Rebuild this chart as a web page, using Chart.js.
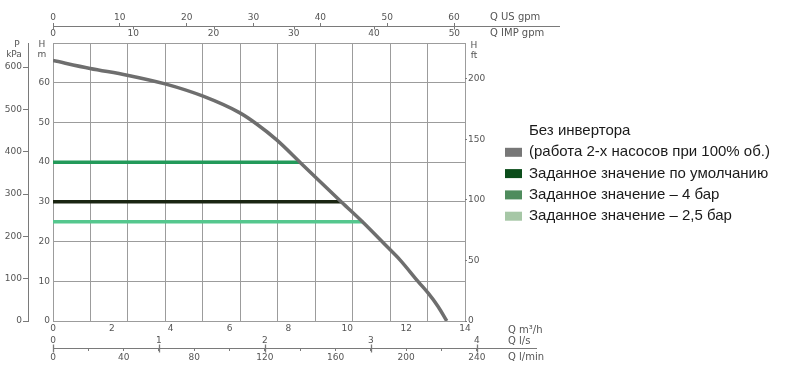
<!DOCTYPE html>
<html><head><meta charset="utf-8">
<script src="https://cdn.jsdelivr.net/npm/chart.js@4.4.0/dist/chart.umd.min.js"></script>
<style>html,body{margin:0;padding:0;background:#fff;overflow:hidden}#wrap{position:relative;width:800px;height:369px}</style>
</head><body><div id="wrap"><canvas id="c" width="800" height="369"></canvas></div>
<script>
// ---- data ----
const curveQ = [0, 1.26, 2.52, 3.81, 5.1, 6.35, 6.92, 7.6, 8.39, 9.81, 10.54, 11.34, 11.79, 12.41, 12.75, 13.09, 13.38];
const curveH = [65.6, 63.6, 61.9, 59.7, 56.6, 52.4, 49.6, 45.6, 40.0, 29.9, 24.8, 18.8, 15.4, 9.9, 7.0, 3.6, 0];
const setpointH = [30, 40, 25];
const setpointQ = [9.81, 8.39, 10.54];
const legendLabels = [['Без инвертора', '(работа 2-х насосов при 100% об.)'], ['Заданное значение по умолчанию'], ['Заданное значение – 4 бар'], ['Заданное значение – 2,5 бар']];
const ticksM = [0, 10, 20, 30, 40, 50, 60, 70];
const ticksKPa = [0, 100, 200, 300, 400, 500, 600];
const ticksFt = [0, 50, 100, 150, 200];
const ticksM3h = [0, 2, 4, 6, 8, 10, 12, 14];
const ticksUS = [0, 10, 20, 30, 40, 50, 60];
const ticksIMP = [0, 10, 20, 30, 40, 50];
const ticksLs = [0, 1, 2, 3, 4];
const ticksLmin = [0, 20, 40, 60, 80, 100, 120, 140, 160, 180, 200, 220, 240];
const gridCols = [0, 1, 2, 3, 4, 5, 6, 7, 8, 9, 10, 11];
const unitLabels = ['Q US gpm', 'Q IMP gpm', 'Q m³/h', 'Q l/s', 'Q l/min'];

// ---- styles ----
const curveColor = '#6e6e6e';
const lineColors = ['#1a2512', '#239a5a', '#55c78e'];
const legendColors = ['#777777', '#0b4d1a', '#4f8c5d', '#a6c7a6'];
const tickFont = {family: 'DejaVu Sans', size: 9};
const tickCol = '#555';
const axisCol = '#7a7a7a';
const gridCol = '#9c9c9c';
const QMAX = 14, HMAX = 70, KPAMAX = 657;

const fixW = w => s => { s.width = w; };
const fixH = h => s => { s.height = h; };
const setTicks = arr => s => { s.ticks = arr.map(v => ({value: v})); };
const tk = extra => Object.assign({font: tickFont, color: tickCol, autoSkip: false, maxRotation: 0}, extra || {});

const datasets = [{
  data: curveQ.map((q, i) => ({x: q, y: curveH[i]})),
  borderColor: curveColor, borderWidth: 3.5, pointRadius: 0, cubicInterpolationMode: 'monotone', fill: false
}].concat(setpointH.map((h, i) => ({
  data: [{x: 0, y: h}, {x: setpointQ[i], y: h}],
  borderColor: lineColors[i], borderWidth: 3.5, pointRadius: 0, fill: false
})));

const extras = {
  id: 'extras',
  afterDraw(chart) {
    const ctx = chart.ctx, s = chart.scales, ca = chart.chartArea;
    ctx.save();
    ctx.strokeStyle = axisCol; ctx.lineWidth = 1;
    // top flow axis line
    const yt = Math.round(s.xus.bottom) + 0.5;
    ctx.beginPath(); ctx.moveTo(ca.left, yt); ctx.lineTo(560, yt); ctx.stroke();
    ticksIMP.forEach(v => {
      const x = Math.round(s.xim.getPixelForValue(v)) + 0.5;
      ctx.beginPath(); ctx.moveTo(x, yt); ctx.lineTo(x, yt + 3); ctx.stroke();
    });
    // bottom flow axis line
    const yb = Math.round(s.xlmin.top) + 0.5;
    ctx.beginPath(); ctx.moveTo(ca.left, yb); ctx.lineTo(537, yb); ctx.stroke();
    ctx.lineWidth = 1.3;
    ticksLs.forEach(v => {
      const x = Math.round(s.xls.getPixelForValue(v)) + 0.5;
      ctx.beginPath(); ctx.moveTo(x, yb - 4); ctx.lineTo(x, yb + 4); ctx.stroke();
    });
    // axis titles
    ctx.fillStyle = tickCol;
    ctx.font = '9px "DejaVu Sans"';
    ctx.textAlign = 'center'; ctx.textBaseline = 'middle';
    ctx.fillText('P', 17, 44.5); ctx.fillText('kPa', 14, 54.5);
    ctx.fillText('H', 42, 44.5); ctx.fillText('m', 42, 54.5);
    ctx.fillText('H', 474, 45.5); ctx.fillText('ft', 474, 55.5);
    ctx.font = '10px "DejaVu Sans"';
    ctx.textAlign = 'left';
    ctx.fillText(unitLabels[0], 490, 17);
    ctx.fillText(unitLabels[1], 490, 33);
    ctx.fillText(unitLabels[2], 508, 330);
    ctx.fillText(unitLabels[3], 508, 341);
    ctx.fillText(unitLabels[4], 508, 357);
    // legend
    ctx.font = '15px "Liberation Sans"';
    ctx.fillStyle = '#1a1a1a';
    let y = 131;
    legendLabels.forEach((lines, i) => {
      lines.forEach((t, j) => {
        if (j === lines.length - 1) {
          ctx.fillStyle = legendColors[i];
          ctx.fillRect(505, y - 4.5, 17, 9);
          ctx.fillStyle = '#1a1a1a';
        }
        ctx.fillText(t, 529, y);
        y += 21.3;
      });
    });
    ctx.restore();
  }
};

new Chart(document.getElementById('c'), {
  type: 'line',
  data: {datasets},
  plugins: [extras],
  options: {
    responsive: false, animation: false, devicePixelRatio: 1,
    layout: {padding: {left: 0, right: 310, top: 0, bottom: 0}},
    plugins: {legend: {display: false}, tooltip: {enabled: false}},
    scales: {
      x: {type: 'linear', position: 'bottom', weight: 0, min: 0, max: QMAX,
          afterBuildTicks: setTicks(ticksM3h), afterFit: fixH(12),
          grid: {display: false, drawTicks: false}, border: {display: false}, ticks: tk({padding: 2})},
      xg: {type: 'linear', position: 'bottom', weight: -1, min: 0, max: 11,
           afterBuildTicks: setTicks(gridCols), afterFit: fixH(0),
           grid: {color: gridCol, lineWidth: 1, drawTicks: false}, border: {display: false}, ticks: {display: false}},
      xls: {type: 'linear', position: 'bottom', weight: 1, min: 0, max: QMAX / 3.6,
            afterBuildTicks: setTicks(ticksLs), afterFit: fixH(15),
            grid: {display: false, drawTicks: false}, border: {display: false}, ticks: tk({padding: 2.5})},
      xlmin: {type: 'linear', position: 'bottom', weight: 2, min: 0, max: QMAX * 1000 / 60,
              afterBuildTicks: setTicks(ticksLmin), afterFit: fixH(21),
              grid: {drawOnChartArea: false, drawTicks: true, tickLength: 3, color: axisCol}, border: {display: false},
              ticks: tk({padding: 1, callback: v => (v % 40 === 0 ? v : '')})},
      xus: {type: 'linear', position: 'top', weight: 1, min: 0, max: QMAX * 4.40287,
            afterBuildTicks: setTicks(ticksUS), afterFit: fixH(26),
            grid: {drawOnChartArea: false, tickLength: 3, color: axisCol}, border: {display: false}, ticks: tk({padding: 0})},
      xim: {type: 'linear', position: 'top', weight: 0, min: 0, max: QMAX * 3.66615,
            afterBuildTicks: setTicks(ticksIMP), afterFit: fixH(17),
            grid: {display: false, drawTicks: false}, border: {display: false}, ticks: tk({padding: 4})},
      y: {type: 'linear', position: 'left', weight: 0, min: 0, max: HMAX,
          afterBuildTicks: setTicks(ticksM), afterFit: fixW(25),
          grid: {color: gridCol, drawTicks: false}, border: {display: false},
          ticks: tk({padding: 3, callback: v => (v === 70 ? '' : v)})},
      yk: {type: 'linear', position: 'left', weight: 1, min: 0, max: KPAMAX,
           afterBuildTicks: setTicks(ticksKPa), afterFit: fixW(28),
           grid: {drawOnChartArea: false, tickLength: 5, color: axisCol}, border: {display: true, color: axisCol},
           ticks: tk({padding: 1})},
      yft: {type: 'linear', position: 'right', weight: 0, min: 0, max: HMAX * 3.28084,
            afterBuildTicks: setTicks(ticksFt), afterFit: fixW(25),
            grid: {drawOnChartArea: false, tickLength: 2, color: axisCol}, border: {display: false},
            ticks: tk({padding: 1})}
    }
  }
});
</script></body></html>
